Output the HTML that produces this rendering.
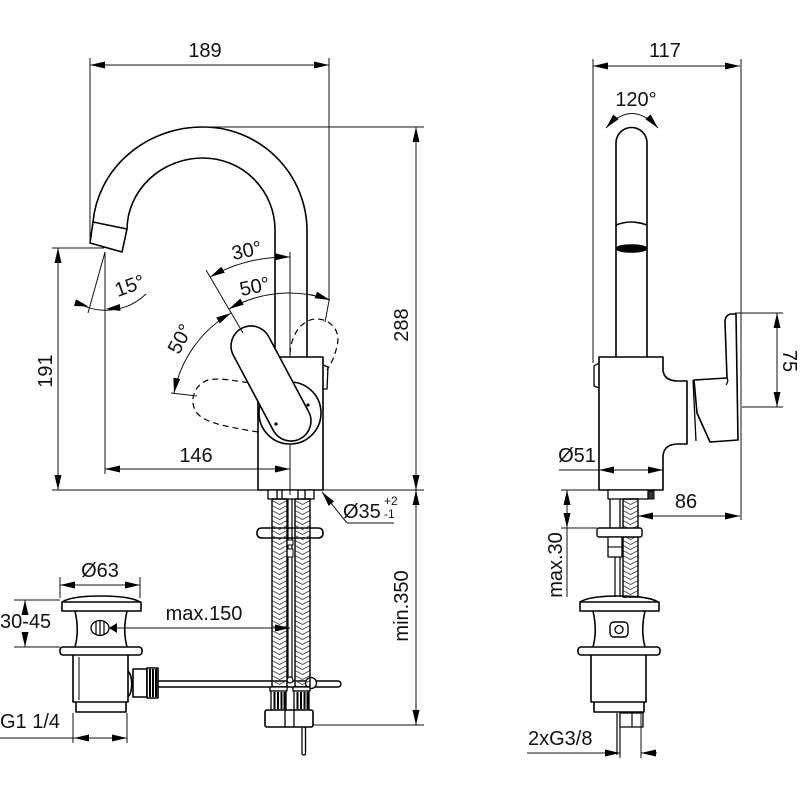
<!DOCTYPE html>
<html><head><meta charset="utf-8"><style>
html,body{margin:0;padding:0;background:#fff;}
svg{display:block;}
text{font-family:"Liberation Sans",Arial,sans-serif;font-size:20px;fill:#111;stroke:none;}
</style></head><body>
<svg width="800" height="800" viewBox="0 0 800 800" xmlns="http://www.w3.org/2000/svg">
<defs>
<marker id="a" viewBox="0 0 15 7" refX="15" refY="3.5" markerWidth="15" markerHeight="7" orient="auto-start-reverse" markerUnits="userSpaceOnUse"><path d="M0,0L15,3.5L0,7z" fill="#000"/></marker>
<pattern id="h" patternUnits="userSpaceOnUse" width="15" height="5"><path d="M0,0.5L7.5,4.5L15,0.5" fill="none" stroke="#444" stroke-width="0.9"/></pattern>
</defs>
<rect width="800" height="800" fill="#fff"/>

<!-- ================= OBJECTS ================= -->
<g fill="none" stroke="#000" stroke-width="1.6" stroke-linejoin="round">
<!-- LEFT VIEW: spout -->
<path d="M93,222A110,104 0 0 1 203,127A104,104 0 0 1 307,231V357"/>
<path d="M127,229A76,72 0 0 1 203,158A72,72 0 0 1 275,230V350"/>
<path d="M93,222L127,229L122,252L90,243Z"/>
<!-- dashed left lever -->
<path d="M258,384C240,382 220,377 208,380C196,384 189,398 195,410C201,422 222,426 258,432" stroke-dasharray="6,4" stroke-width="1.2"/>
<!-- body -->
<rect x="258" y="357" width="65" height="133" fill="#fff"/>
<!-- dashed right lever -->
<path d="M290,354C291,332 304,318 318,319C332,320 341,332 337,346C335,356 331,364 327,370" stroke-dasharray="6,4" stroke-width="1.2"/>
<path d="M323,365L328,367L327,389L323,389" stroke-width="1.3"/>
<!-- cartridge + lever -->
<circle cx="290" cy="413" r="31" fill="#fff"/>
<rect x="251" y="321" width="40" height="125" rx="20" fill="#fff" transform="rotate(-28 271 383.5)"/>
<circle cx="308" cy="405" r="1.6" fill="#000" stroke="none"/>
<circle cx="276" cy="424" r="1.6" fill="#000" stroke="none"/>

<!-- below body: plate, rod -->
<path d="M262,528H318Q323,528 323,533Q323,538 318,538H262Q257,538 257,533Q257,528 262,528Z" fill="#fff"/>
<rect x="157" y="681" width="184" height="6" rx="3" fill="#fff" stroke-width="1.4"/>
<path d="M288,499V680M292,499V680" stroke-width="1.2"/>
<rect x="287" y="540" width="6" height="5" fill="#fff" stroke-width="1"/>
<rect x="287" y="549" width="6" height="8" fill="#fff" stroke-width="1"/>
<circle cx="290" cy="680" r="3" fill="#fff" stroke-width="1.2"/>
<circle cx="311" cy="683" r="5.5" fill="#fff" stroke-width="1.3"/>
<rect x="268" y="490" width="9" height="9" fill="#fff" stroke-width="1.3"/>
<rect x="282" y="490" width="16" height="9" fill="#fff" stroke-width="1.3"/>
<rect x="305" y="490" width="9" height="9" fill="#fff" stroke-width="1.3"/>
<g transform="translate(272,0)"><rect x="0" y="499" width="15" height="188" fill="url(#h)" stroke-width="1.4"/></g>
<g transform="translate(295,0)"><rect x="0" y="499" width="15" height="188" fill="url(#h)" stroke-width="1.4"/></g>
<!-- fittings -->
<rect x="270" y="687" width="17" height="4" fill="#fff" stroke-width="1.3"/>
<rect x="271" y="691" width="15" height="19" fill="#fff" stroke-width="1.3"/>
<path d="M274.5,692V709M278,692V709M281.5,692V709M284.5,692V709" stroke-width="2"/>
<rect x="293" y="687" width="17" height="4" fill="#fff" stroke-width="1.3"/>
<rect x="294" y="691" width="15" height="19" fill="#fff" stroke-width="1.3"/>
<path d="M297.5,692V709M301,692V709M304.5,692V709M307.5,692V709" stroke-width="2"/>
<rect x="265" y="710" width="48" height="17" rx="2" fill="#fff"/>
<path d="M285,710V727M294,710V727" stroke-width="1.3"/>
<rect x="302" y="727" width="3.5" height="28" rx="1.5" fill="#fff" stroke-width="1.3"/>

<!-- LEFT DRAIN -->
<path d="M62,602C70,597 85,596 100,596C115,596 132,597 140,602"/>
<rect x="62" y="602" width="79" height="9" fill="#fff"/>
<path d="M75,611C78,624 78,636 75,647M127,611C124,624 124,636 127,647"/>
<rect x="60" y="647" width="82" height="8" rx="3" fill="#fff"/>
<path d="M73,655V702H128V655M76,702V712H126V702"/>
<path d="M79,657V700" stroke-width="1"/>
<path d="M128,671C133,676 133,692 128,697"/>
<rect x="133" y="669" width="14" height="28" fill="#fff"/>
<rect x="147" y="668" width="11" height="30" fill="#fff"/>
<path d="M150,669V697M153,669V697M156,669V697" stroke-width="2"/>
<ellipse cx="100" cy="628" rx="9" ry="7.5" fill="#fff" stroke-width="1.3"/>
<path d="M96,621V635M100,620.5V635.5M104,621V635" stroke-width="1.2"/>
<path d="M109,628L117,623V633Z" fill="#000" stroke="none"/>

<!-- RIGHT VIEW -->
<path d="M616,357V143A15.5,15.5 0 0 1 647,143V357"/>
<path d="M616,225Q631.5,219 647,225"/>
<ellipse cx="631.5" cy="248.5" rx="15" ry="3.5" fill="#000"/>
<path d="M599,357H663V370Q664,381 678,381H687V444H678Q664,444 663,456V490H599Z" fill="#fff"/>
<path d="M693,380L696,441" stroke-width="1.3"/>
<path d="M694,380L727,378L725,322Q725,315 731,314L736,314L738,440L710,442L697,413Z" fill="#fff"/>
<path d="M727,378Q729,381 726,385" stroke-width="1.2"/>
<path d="M599,363L594,366L594,386L599,388" stroke-width="1.3"/>
<rect x="608" y="490" width="40" height="9" fill="#fff" stroke-width="1.3"/>
<rect x="648" y="491" width="6" height="8" fill="#333" stroke-width="1"/>
<path d="M610,499V528M620,499V528" stroke-width="1.3"/>
<g transform="translate(623,0)"><rect x="0" y="499" width="15" height="98" fill="url(#h)" stroke-width="1.4"/></g>
<rect x="597" y="528" width="45" height="9" rx="2" fill="#fff" stroke-width="1.4"/>
<rect x="608" y="537" width="14" height="20" fill="#fff" stroke-width="1.3"/>
<path d="M608,547H622" stroke-width="1.1"/>
<path d="M615,557V597M620,557V597" stroke-width="1.2"/>
<!-- right drain -->
<g transform="translate(518,0)">
<path d="M62,602C70,597 85,596 100,596C115,596 132,597 140,602"/>
<rect x="62" y="602" width="79" height="9" fill="#fff"/>
<path d="M75,611C78,624 78,636 75,647M127,611C124,624 124,636 127,647"/>
<rect x="60" y="647" width="82" height="8" rx="3" fill="#fff"/>
<path d="M73,655V702H128V655M76,702V712H126V702"/>
</g>
<rect x="610" y="622" width="18" height="15" rx="4" fill="#fff" stroke-width="1.4"/>
<circle cx="619" cy="629.5" r="4" stroke-width="1.3"/>
<path d="M617,713V755M620,713V755" stroke-width="1.2"/>
<rect x="620" y="713" width="23" height="14" fill="#fff" stroke-width="1.3"/>
<path d="M632,713V727" stroke-width="1.2"/>
</g>

<!-- ================= DIMENSIONS ================= -->
<g fill="none" stroke="#111" stroke-width="1">
<!-- 189 -->
<path d="M90,65H329" marker-start="url(#a)" marker-end="url(#a)"/>
<path d="M90,58V243M329,58V301L325,322"/>
<!-- 191 -->
<path d="M58,248V490" marker-start="url(#a)" marker-end="url(#a)"/>
<path d="M52,248H104M52,490H258M323,490H424"/>
<!-- 146 -->
<path d="M105,469H290" marker-start="url(#a)" marker-end="url(#a)"/>
<path d="M105,252V474M290,252V357M290,445V495"/>
<!-- 15 deg -->
<path d="M105,252L88,313"/>
<path d="M76,302A58,58 0 0 0 146,294"/>
<path d="M88.5,306.5L74,306L76,299.3Z" fill="#000" stroke="none"/>
<path d="M106,309L120.5,311L119.8,304Z" fill="#000" stroke="none"/>
<!-- 288 / 350 -->
<path d="M416,127V490" marker-start="url(#a)" marker-end="url(#a)"/>
<path d="M203,127H424M313,725H424"/>
<path d="M416,490V725" marker-start="url(#a)" marker-end="url(#a)"/>
<!-- Ø35 -->
<path d="M347,523L322,492" marker-end="url(#a)"/>
<path d="M347,523H394"/>
<!-- angles -->
<path d="M210,277A158,158 0 0 1 290,257" marker-start="url(#a)" marker-end="url(#a)"/>
<path d="M206,270L243,333"/>
<path d="M229,309A122,122 0 0 1 330,300" marker-start="url(#a)" marker-end="url(#a)"/>
<path d="M231,313A118,118 0 0 0 174,393" marker-start="url(#a)" marker-end="url(#a)"/>
<path d="M171,393L197,396"/>
<!-- left drain dims -->
<path d="M60,585H140" marker-start="url(#a)" marker-end="url(#a)"/>
<path d="M60,577V598M140,577V598"/>
<path d="M25,612V600" marker-end="url(#a)"/>
<path d="M25,634V647" marker-end="url(#a)"/>
<path d="M14,600H60M14,647H60"/>
<path d="M115,628H290" marker-end="url(#a)"/>
<path d="M0,738H127" marker-end="url(#a)"/>
<path d="M100,738H74" marker-end="url(#a)"/>
<path d="M73,713V743M127,713V743"/>
<!-- right view dims -->
<path d="M593,66H740" marker-start="url(#a)" marker-end="url(#a)"/>
<path d="M593,59V363M741,59V520"/>
<path d="M606,128Q632,99 658,128" marker-start="url(#a)" marker-end="url(#a)"/>
<path d="M777,313V407" marker-start="url(#a)" marker-end="url(#a)"/>
<path d="M735,313H783M742,407H783"/>
<path d="M559,470H663" marker-end="url(#a)"/>
<path d="M630,470H599" marker-end="url(#a)"/>
<path d="M638,516H740" marker-start="url(#a)" marker-end="url(#a)"/>
<path d="M567,490V528" marker-start="url(#a)" marker-end="url(#a)"/>
<path d="M567,528V597M561,490H600M561,528H597"/>
<path d="M527,753H620" marker-end="url(#a)"/>
<path d="M657,753H641" marker-end="url(#a)"/>
<path d="M620,713V758M641,713V758"/>
</g>

<!-- ================= TEXT ================= -->
<text x="205" y="57" text-anchor="middle">189</text>
<text x="196" y="462" text-anchor="middle">146</text>
<text transform="translate(52,371) rotate(-90)" text-anchor="middle">191</text>
<text transform="translate(408,325) rotate(-90)" text-anchor="middle">288</text>
<text transform="translate(408,606) rotate(-90)" text-anchor="middle">min.350</text>
<text x="343" y="518">Ø35</text>
<text x="384" y="505" style="font-size:12px">+2</text>
<text x="384" y="518" style="font-size:12px">-1</text>
<text transform="translate(248,257) rotate(-12)" text-anchor="middle">30°</text>
<text transform="translate(256,293) rotate(-12)" text-anchor="middle">50°</text>
<text transform="translate(186,342) rotate(-62)" text-anchor="middle">50°</text>
<text transform="translate(132,292) rotate(-20)" text-anchor="middle">15°</text>
<text x="100" y="577" text-anchor="middle">Ø63</text>
<text x="0" y="628">30-45</text>
<text x="204" y="620" text-anchor="middle">max.150</text>
<text x="0" y="728">G1 1/4</text>
<text x="665" y="57" text-anchor="middle">117</text>
<text x="636" y="106" text-anchor="middle">120°</text>
<text transform="translate(783,361) rotate(90)" text-anchor="middle">75</text>
<text x="577" y="462" text-anchor="middle">Ø51</text>
<text x="686" y="508" text-anchor="middle">86</text>
<text transform="translate(562,565) rotate(-90)" text-anchor="middle">max.30</text>
<text x="528" y="745">2xG3/8</text>
</svg>
</body></html>
